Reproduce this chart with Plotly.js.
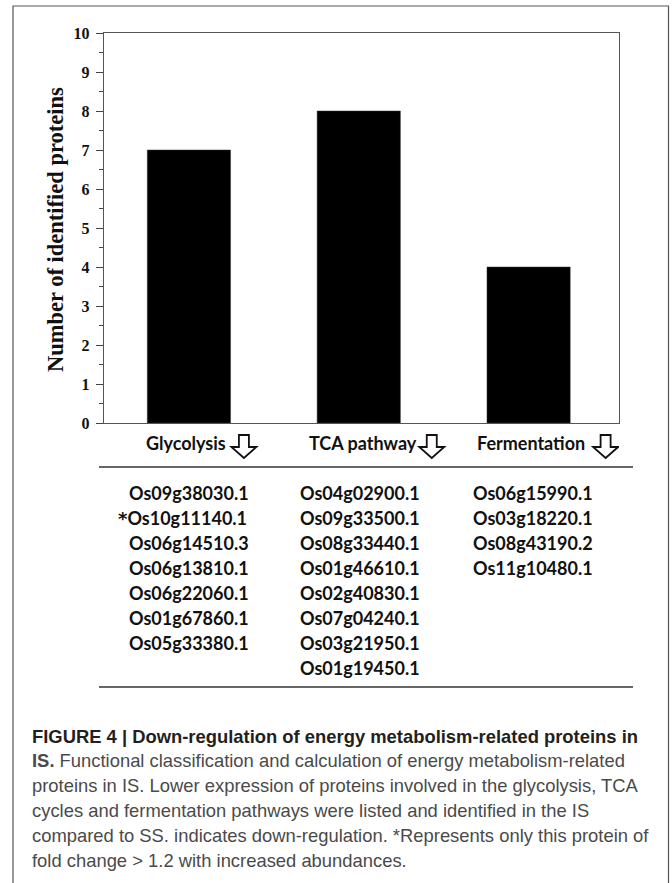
<!DOCTYPE html>
<html>
<head>
<meta charset="utf-8">
<script src="https://cdn.plot.ly/plotly-3.0.1.min.js"></script>
<style>
html,body{margin:0;padding:0;background:#fff;}
#chart{width:672px;height:883px;}
</style>
</head>
<body>
<div id="chart"></div>
<script>
// ---- data ----
const categories = ["Glycolysis", "TCA pathway", "Fermentation"];
const counts = [7, 8, 4];
const yTickValues = [0, 1, 2, 3, 4, 5, 6, 7, 8, 9, 10];
const yAxisTitle = "Number of identified proteins";
const glycolysisGenes = ["Os09g38030.1", "*Os10g11140.1", "Os06g14510.3", "Os06g13810.1", "Os06g22060.1", "Os01g67860.1", "Os05g33380.1"];
const tcaGenes = ["Os04g02900.1", "Os09g33500.1", "Os08g33440.1", "Os01g46610.1", "Os02g40830.1", "Os07g04240.1", "Os03g21950.1", "Os01g19450.1"];
const fermentationGenes = ["Os06g15990.1", "Os03g18220.1", "Os08g43190.2", "Os11g10480.1"];
const geneLists = [glycolysisGenes, tcaGenes, fermentationGenes];
const captionLines = [
  "<b>FIGURE 4 | Down-regulation of energy metabolism-related proteins in</b>",
  "<b>IS.</b> Functional classification and calculation of energy metabolism-related",
  "proteins in IS. Lower expression of proteins involved in the glycolysis, TCA",
  "cycles and fermentation pathways were listed and identified in the IS",
  "compared to SS. indicates down-regulation. *Represents only this protein of",
  "fold change &gt; 1.2 with increased abundances."
];

// ---- layout helpers (pixel -> paper) ----
const L = 104, R = 619, T = 33, B = 423;
const px = x => (x - L) / (R - L);
const py = y => (B - y) / (B - T);

const annotations = [];
const shapes = [];

// y axis title
annotations.push({
  xref: "paper", yref: "paper", x: px(55), y: py(230),
  text: yAxisTitle, textangle: -90, showarrow: false,
  xanchor: "center", yanchor: "middle",
  font: {family: "Liberation Serif", size: 22.5, weight: "bold", color: "#111"}
});

// category labels with hollow down arrows
const labelShift = [-3, 4, 2];
const arrowShift = [55, 73, 77];
const arrowPts = [[-5, 0], [5, 0], [5, -12], [12.5, -12], [0, -23], [-12.5, -12], [-5, -12]];
categories.forEach((c, i) => {
  annotations.push({
    xref: "x", yref: "paper", x: c, y: py(443), xshift: labelShift[i],
    text: c, showarrow: false, xanchor: "center", yanchor: "middle",
    font: {family: "Lato", size: 18, weight: "bold", color: "#111"}
  });
  const path = arrowPts.map((p, k) => (k ? "L " : "M ") + (p[0] + arrowShift[i]) + " " + p[1]).join(" ") + " Z";
  shapes.push({
    type: "path", xref: "x", yref: "paper",
    xsizemode: "pixel", ysizemode: "pixel",
    xanchor: i, yanchor: py(435),
    path: path,
    line: {color: "#111", width: 1.8}, fillcolor: "#fff"
  });
});

// gene lists
const colShift = [0, 1, 4];
geneLists.forEach((genes, ci) => {
  genes.forEach((g, ri) => {
    const starred = g.startsWith("*");
    const txt = starred
      ? "<span style='font-family:DejaVu Sans'>*</span>" + g.slice(1)
      : g;
    annotations.push({
      xref: "x", yref: "paper", x: categories[ci], y: py(493 + 25 * ri),
      xshift: colShift[ci] + (starred ? -6 : 0),
      text: txt, showarrow: false, xanchor: "center", yanchor: "middle",
      font: {family: "Lato", size: 18, weight: "bold", color: "#111"}
    });
  });
});

// caption
captionLines.forEach((t, i) => {
  annotations.push({
    xref: "paper", yref: "paper", x: px(30), y: py(736 + 24.8 * i),
    text: t, showarrow: false, xanchor: "left", yanchor: "middle", align: "left",
    font: {family: "Liberation Sans", size: 18.4, color: i === 0 ? "#231f20" : "#4a4a4a"}
  });
});

// table rules
[467, 687].forEach(yy => {
  shapes.push({type: "line", xref: "paper", yref: "paper",
    x0: px(99), x1: px(633), y0: py(yy), y1: py(yy),
    line: {color: "#333", width: 1.5}});
});
// outer figure frame
shapes.push({type: "rect", xref: "paper", yref: "paper",
  x0: px(13), x1: px(668.5), y0: py(6), y1: py(900),
  line: {color: "#555", width: 1.2}, fillcolor: "rgba(0,0,0,0)"});

const trace = {
  type: "bar", x: categories, y: counts,
  marker: {color: "#000", line: {color: "#333", width: 0.5}},
  hoverinfo: "skip"
};

const layout = {
  width: 672, height: 883,
  margin: {l: L, r: 672 - R, t: T, b: 883 - B, pad: 0},
  paper_bgcolor: "#fff", plot_bgcolor: "#fff",
  showlegend: false, bargap: 0.51,
  xaxis: {
    showticklabels: false, ticks: "", showgrid: false, zeroline: false,
    showline: true, mirror: true, linecolor: "#555", linewidth: 1.2,
    fixedrange: true
  },
  yaxis: {
    range: [0, 10], tickvals: yTickValues, ticks: "outside", ticklen: 7,
    tickwidth: 1, tickcolor: "#444",
    minor: {dtick: 0.5, ticks: "outside", ticklen: 4, tickwidth: 1, tickcolor: "#444"},
    showgrid: false, zeroline: false,
    showline: true, mirror: true, linecolor: "#555", linewidth: 1.2,
    tickfont: {family: "Liberation Serif", size: 16, weight: "bold", color: "#111"},
    ticklabelstandoff: 3, fixedrange: true
  },
  annotations: annotations,
  shapes: shapes
};

Plotly.newPlot("chart", [trace], layout, {staticPlot: true, displayModeBar: false});
</script>
</body>
</html>
